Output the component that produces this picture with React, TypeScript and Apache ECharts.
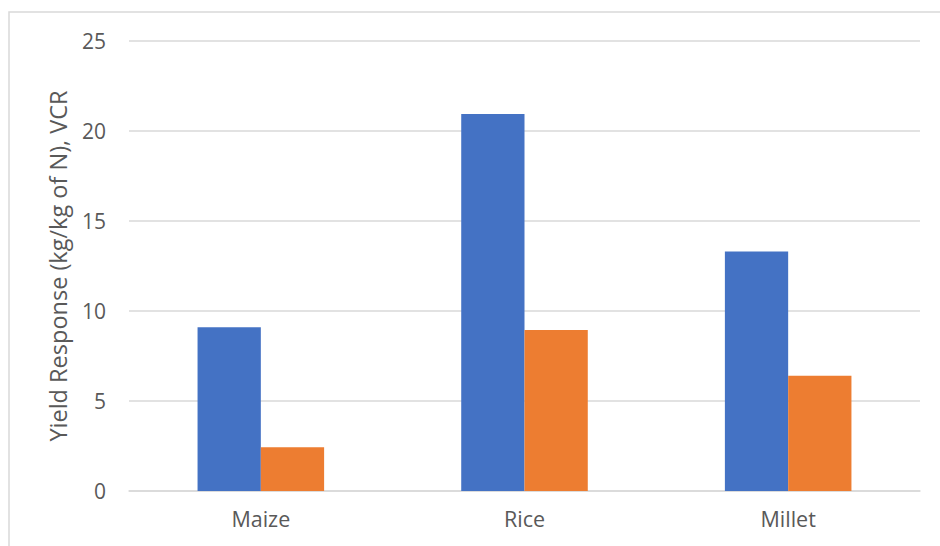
import React, { useEffect, useRef } from "react";
import * as echarts from "echarts";

const categories = ["Maize", "Rice", "Millet"];
const yieldResponse = [9.1, 20.95, 13.3];
const vcr = [2.43, 8.95, 6.4];
const yTicks = { min: 0, max: 25, interval: 5 };

export default function App() {
  const ref = useRef<HTMLDivElement>(null);
  useEffect(() => {
    document.body.style.margin = "0";
    if (!ref.current) return;
    const chart = echarts.init(ref.current, undefined, { renderer: "svg" });
    const font = "'Open Sans', 'Noto Sans', sans-serif";
    chart.setOption({
      animation: false,
      backgroundColor: "#ffffff",
      textStyle: { fontFamily: font },
      grid: { left: 129, right: 20, top: 41, bottom: 55, containLabel: false },
      graphic: [
        {
          type: "rect",
          shape: { x: 9, y: 12, width: 1000, height: 600 },
          style: { fill: "none", stroke: "#d9d9d9", lineWidth: 1.5 },
          silent: true,
        },
      ],
      xAxis: {
        type: "category",
        data: categories,
        axisLine: { show: true, lineStyle: { color: "#d9d9d9", width: 1.5 } },
        axisTick: { show: false },
        axisLabel: { color: "#595959", fontSize: 21.5, margin: 16, fontFamily: font },
      },
      yAxis: {
        type: "value",
        min: yTicks.min,
        max: yTicks.max,
        interval: yTicks.interval,
        name: "Yield Response (kg/kg of N), VCR",
        nameLocation: "middle",
        nameGap: 59,
        nameTextStyle: { color: "#595959", fontSize: 23.5, fontFamily: font },
        axisLine: { show: false },
        axisTick: { show: false },
        axisLabel: { color: "#595959", fontSize: 21, margin: 23, fontFamily: font },
        splitLine: { lineStyle: { color: "#d9d9d9", width: 1.5 } },
      },
      series: [
        {
          name: "Yield Response",
          type: "bar",
          data: yieldResponse,
          itemStyle: { color: "#4472C4" },
          barGap: "0%",
          barCategoryGap: "52%",
        },
        {
          name: "VCR",
          type: "bar",
          data: vcr,
          itemStyle: { color: "#ED7D31" },
          barGap: "0%",
          barCategoryGap: "52%",
        },
      ],
    });
    return () => chart.dispose();
  }, []);
  return <div ref={ref} style={{ width: 940, height: 546 }} />;
}
